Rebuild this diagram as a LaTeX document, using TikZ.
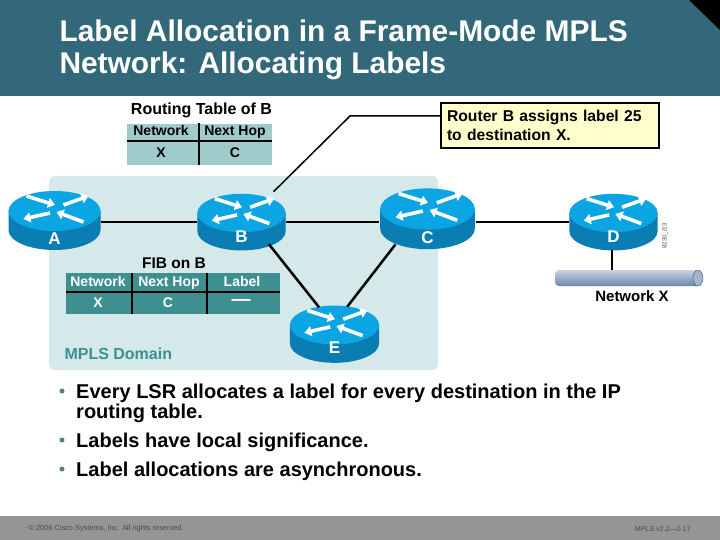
\documentclass[tikz,border=0pt]{standalone}
\usepackage{fontspec}
\setmainfont{Liberation Sans}
\usetikzlibrary{arrows.meta,shapes.geometric}
\definecolor{barteal}{HTML}{33687A}
\definecolor{footgray}{HTML}{959595}
\definecolor{footink}{HTML}{4A4A4A}
\definecolor{domainbg}{HTML}{D5E8EA}
\definecolor{tablelight}{HTML}{9FCBCB}
\definecolor{tabledark}{HTML}{3E9090}
\definecolor{calloutbg}{HTML}{FFFFCC}
\definecolor{routertop}{HTML}{0AA5E2}
\definecolor{routerside}{HTML}{0A7DB2}
\definecolor{cablelight}{HTML}{C8D4E4}
\definecolor{cabledark}{HTML}{6A86A8}
\definecolor{bulletgray}{HTML}{5A7E8A}
\tikzset{
    link/.style={black, line width=2pt},
    thinrule/.style={black, line width=1.4pt},
    routerbox/.style={ellipse, inner sep=0pt, minimum width=#1*93pt, minimum height=#1*58pt},
    routertext/.style={text=white, font=\fontsize{17}{17}\selectfont\bfseries},
    headtext/.style={font=\fontsize{14}{14}\selectfont\bfseries},
    celltext/.style={headtext, inner sep=0pt, text height=10pt, text depth=3pt},
    bullettext/.style={anchor=north west, align=left, font=\fontsize{20}{20}\selectfont\bfseries},
    routerarrow/.style={white, line width=3.6pt, -{Triangle[length=7pt,width=10pt]}},
    pics/router/.style={code={
        \fill[routerside] (-46,0) -- (-46,19) arc[start angle=180, end angle=0, x radius=46, y radius=20] -- (46,0) -- cycle;
        \fill[routertop] (0,0) ellipse [x radius=46, y radius=20];
        \draw[routerarrow] (-28,-15) -- (0.5,-6);
        \draw[routerarrow] (9,-6) -- (34,-15);
        \draw[routerarrow] (-4.5,2) -- (-31,8);
        \draw[routerarrow] (29,11) -- (2,1);
    }},
}
\begin{document}
\begin{tikzpicture}[x=1pt, y=-1pt]
    \useasboundingbox (0,0) rectangle (720,540);
    \fill[white] (0,0) rectangle (720,540);
    \fill[barteal] (0,0) rectangle (720,96.5);
    \fill[black] (689,0) -- (720,0) -- (720,30) -- cycle;
    \fill[footgray] (0,516) rectangle (720,540);
    \node[anchor=west, align=left, text=white, font=\fontsize{29.9}{32.5}\selectfont\bfseries] (title) at (56,50) {Label Allocation in a Frame-Mode MPLS\\Network: Allocating Labels};

    % domain and tables
    \fill[domainbg, rounded corners=6pt] (49,176) rectangle (438,370);
    \fill[tablelight] (127,124) rectangle (272,165);
    \draw[thinrule] (127,141) -- (272,141);
    \draw[thinrule] (199,123) -- (199,165);
    \node[headtext, font=\fontsize{16}{16}\selectfont\bfseries] (rtitle) at (201.5,110) {Routing Table of B};
    \node[celltext] (rnet) at (161,132) {Network};
    \node[celltext] (rhop) at (235,132) {Next Hop};
    \node[celltext] (rx) at (161,154) {X};
    \node[celltext] (rc) at (235,154) {C};

    \fill[tabledark] (66,273) rectangle (280,314);
    \draw[thinrule] (66,292) -- (280,292);
    \draw[thinrule] (132,273) -- (132,314);
    \draw[thinrule] (207,273) -- (207,314);
    \node[headtext, font=\fontsize{15.5}{15.5}\selectfont\bfseries] (ftitle) at (174,263) {FIB on B};
    \node[celltext, text=white] (fnet) at (98,283) {Network};
    \node[celltext, text=white] (fhop) at (169,283) {Next Hop};
    \node[celltext, text=white] (flab) at (242,283) {Label};
    \node[celltext, text=white] (fx) at (98,304) {X};
    \node[celltext, text=white] (fc) at (168,304) {C};
    \node[text=white, inner sep=0pt, font=\fontsize{19}{19}\selectfont\bfseries] (fdash) at (241,302) {—};
    \node[anchor=west, text=tabledark, font=\fontsize{16}{16}\selectfont\bfseries] (domain) at (61,354) {MPLS Domain};

    % routers
    \foreach \name/\x/\y/\s/\c/\t in {A/54.5/211/1/222/239, B/241.5/213/0.96/222/237, C/427.5/209/1.03/222/238, D/613.5/213/0.96/222/237, E/334.5/325/0.97/334/348}{
        \pic[scale=\s] at (\x,\y) {router};
        \node[routerbox=\s] (\name) at (\x,\c) {};
        \node[routertext] (\name label) at (\x,\t) {\name};
    }

    % network cylinder
    \shade[rounded corners=4pt, top color=cablelight, bottom color=cabledark] (555,270) rectangle (702,286);
    \draw[cabledark!70!black, fill=cablelight!60!cabledark] (698,278) ellipse [x radius=5, y radius=8];
    \node[minimum width=148pt, minimum height=16pt, inner sep=0pt] (cable) at (629,278) {};
    \node[headtext, font=\fontsize{15}{15}\selectfont\bfseries] (netx) at (632,296.5) {Network X};
    \node[rotate=90, text=black!70, font=\fontsize{6}{6}\selectfont] (stamp) at (665,236) {8230\_/23};

    % callout
    \node[draw=black, line width=2pt, fill=calloutbg, anchor=north west, align=left, minimum width=218pt, minimum height=45pt, text width=206pt, inner xsep=6pt, font=\fontsize{15.7}{19}\selectfont\bfseries] (callout) at (440,102) {Router B assigns label 25\\to destination X.};
    \coordinate (bendB) at (350,116);

    % connectors
    \draw[link] (A) -- (B);
    \draw[link] (B) -- (C);
    \draw[link] (C) -- (D);
    \draw[link, line width=2.5pt] (B.-39) -- (E.120);
    \draw[link, line width=2.5pt] (C.215.8) -- (E.65);
    \draw[link] (D.south -| 612,0) -- (cable.north -| 612,0);
    \draw[line width=1.5pt, shorten <=10pt] (B.43.6) -- (bendB) -- (bendB -| callout.west);

    % bullets
    \node[bullettext] (b1) at (72.7,380) {Every LSR allocates a label for every destination in the IP\\routing table.};
    \node[bullettext] (b2) at (72.7,429) {Labels have local significance.};
    \node[bullettext] (b3) at (72.7,458) {Label allocations are asynchronous.};
    \foreach \y in {391,440,469}
    \fill[bulletgray] (62,\y) circle (2.5pt);

    % footer
    \node[anchor=west, text=footink, font=\fontsize{7.4}{7.4}\selectfont] (copy) at (25,529) {© 2006 Cisco Systems, Inc. All rights reserved.};
    \node[anchor=east, text=footink, font=\fontsize{7}{7}\selectfont] (page) at (694,529) {MPLS v2.2—2-17};
\end{tikzpicture}
\end{document}
